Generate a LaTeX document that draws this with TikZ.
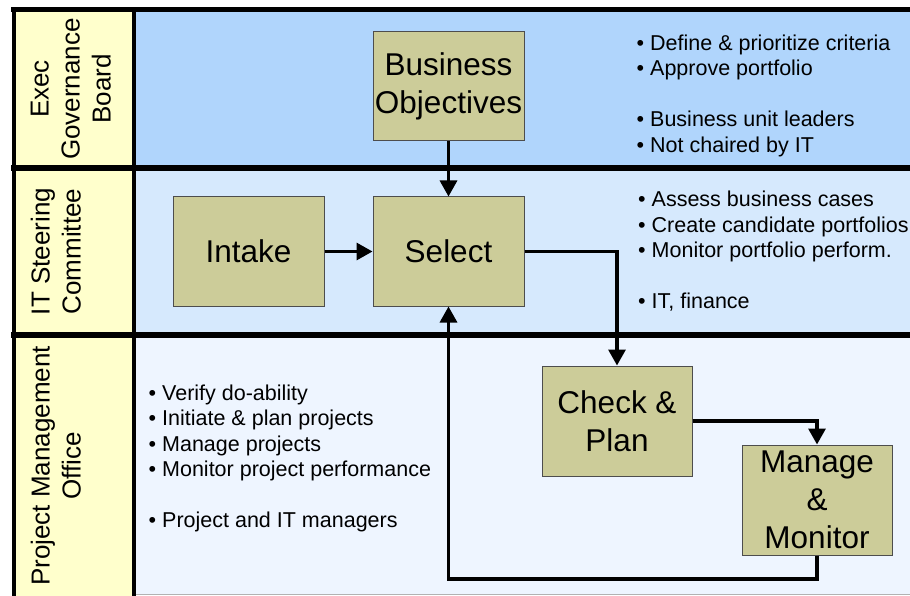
\documentclass[tikz,border=0pt]{standalone}
\usepackage{fontspec}
\setmainfont{Liberation Sans}
\usetikzlibrary{arrows.meta}
\definecolor{laneA}{HTML}{B0D5FC}
\definecolor{laneB}{HTML}{D6E9FD}
\definecolor{laneC}{HTML}{EEF5FF}
\definecolor{labelfill}{HTML}{FFFFCC}
\definecolor{boxfill}{HTML}{CCCC99}
\definecolor{boxline}{HTML}{4D4D4D}
\begin{document}
\begin{tikzpicture}[x=1pt,y=-1pt,
  procbox/.style={draw=boxline, line width=1pt, fill=boxfill, align=center,
    minimum width=151pt, minimum height=109pt, inner sep=0pt,
    font=\fontsize{31.5}{38}\selectfont},
  lanelabel/.style={rotate=90, anchor=north, align=center, inner sep=0pt,
    font=\fontsize{26}{31}\selectfont},
  bullets/.style={anchor=north west, align=left, inner sep=0pt,
    font=\fontsize{21.5}{25.5}\selectfont},
  frameline/.style={line width=5pt, black},
  flow/.style={line width=3.2pt, black, -{Triangle[width=17pt 0 0,length=16pt 0 0]}}
]
\useasboundingbox (0,0) rectangle (910,596);
% lane fills
\fill[laneA] (134,10) rectangle (910,168);
\fill[laneB] (134,168) rectangle (910,335);
\fill[laneC] (134,335) rectangle (910,594);
\draw[gray!60, line width=1pt] (134,594) -- (910,594);
\fill[labelfill] (13.5,10) rectangle (134,596);
% frame lines
\draw[frameline] (11,10) -- (910,10);
\draw[frameline, line width=5.5pt] (11,168) -- (910,168);
\draw[frameline, line width=5.5pt] (11,335) -- (910,335);
\draw[frameline, line width=4pt] (13.5,8) -- (13.5,596);
\draw[frameline, line width=4pt] (134,8) -- (134,596);
% lane labels
\node[lanelabel] (lab1) at (30.5,89) {Exec\\Governance\\Board};
\node[lanelabel] (lab2) at (30.5,251.5) {IT Steering\\Committee};
\node[lanelabel] (lab3) at (30.5,466) {Project Management\\Office};
% process boxes
\node[procbox] (bo) at (448.5,86.5) {Business\\Objectives};
\node[procbox] (intake) at (248.5,251.5) {Intake};
\node[procbox] (select) at (448.5,251.5) {Select};
\node[procbox, minimum width=150pt, minimum height=110pt] (check) at (617,421) {Check \&\\Plan};
\node[procbox, minimum width=150pt, minimum height=110pt] (manage) at (817,500) {Manage\\\&\\Monitor};
% bullet texts
\node[bullets] (t1) at (636.5,32.2) {\strut• Define \& prioritize criteria\\• Approve portfolio\\[25.5pt]• Business unit leaders\\• Not chaired by IT};
\node[bullets] (t2) at (638,188.9) {\strut• Assess business cases\\• Create candidate portfolios\\• Monitor portfolio perform.\\[25.5pt]• IT, finance};
\node[bullets] (t3) at (148.5,382.2) {\strut• Verify do-ability\\• Initiate \& plan projects\\• Manage projects\\• Monitor project performance\\[25.5pt]• Project and IT managers};
% connectors
\coordinate (back) at (630,579);
\draw[flow] (bo) -- (select);
\draw[flow] (intake) -- (select);
\draw[flow] (select.east) -| (check.north);
\draw[flow] (check.east) -| (manage.north);
\draw[flow] (manage.south) |- (back) -| (select.south);
\end{tikzpicture}
\end{document}
